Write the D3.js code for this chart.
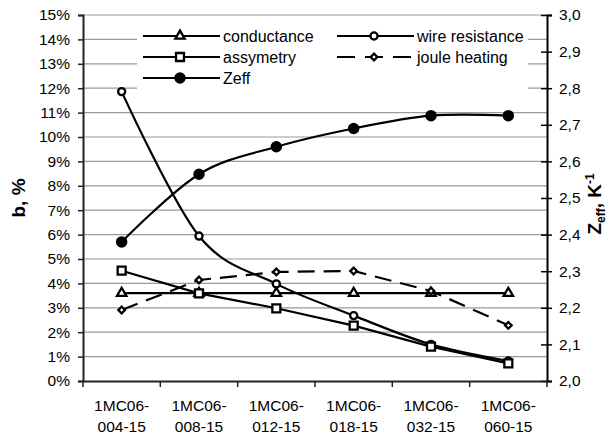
<!DOCTYPE html>
<html>
<head>
<meta charset="utf-8">
<script src="https://cdn.jsdelivr.net/npm/d3@7"></script>
<style>
    body { margin: 0; background: #fff; }
    text { font-family: "Liberation Sans", Arial, sans-serif; fill: #000; }
</style>
</head>
<body>
<div id="chart"></div>
<script>
// samples on the x axis
const categories = ["1MC06-004-15", "1MC06-008-15", "1MC06-012-15", "1MC06-018-15", "1MC06-032-15", "1MC06-060-15"];

// left axis series, in %
const conductance = [3.6, 3.6, 3.6, 3.6, 3.6, 3.6];
const wireResistance = [11.86, 5.94, 3.98, 2.68, 1.50, 0.82];
const assymetry = [4.52, 3.59, 2.98, 2.27, 1.41, 0.72];
const jouleHeating = [2.91, 4.14, 4.47, 4.51, 3.69, 2.28];

// right axis series, K^-1
const zeff = [2.38, 2.565, 2.64, 2.69, 2.725, 2.725];

const leftTicks = d3.range(0, 16, 1);
const rightTicks = [2.0, 2.1, 2.2, 2.3, 2.4, 2.5, 2.6, 2.7, 2.8, 2.9, 3.0];

const width = 608;
const height = 435;
const plot = { left: 83, right: 547, top: 15, bottom: 381 };

const svg = d3.select("#chart").append("svg")
    .attr("width", width)
    .attr("height", height);

const x = d3.scaleBand().domain(categories).range([plot.left, plot.right]);
const cx = d => x(d) + x.bandwidth() / 2;
const yL = d3.scaleLinear().domain([0, 15]).range([plot.bottom, plot.top]);
const yR = d3.scaleLinear().domain([2, 3]).range([plot.bottom, plot.top]);

// gridlines
svg.append("g").selectAll("line")
    .data(leftTicks.filter(t => t > 0))
    .enter().append("line")
    .attr("x1", plot.left).attr("x2", plot.right)
    .attr("y1", d => yL(d)).attr("y2", d => yL(d))
    .attr("stroke", "#9a9a9a")
    .attr("stroke-width", 1.2);

// left axis
const axL = svg.append("g")
    .attr("transform", `translate(${plot.left},0)`)
    .call(d3.axisLeft(yL).tickValues(leftTicks).tickSize(5).tickPadding(8).tickFormat(d => d + "%"));
axL.select(".domain").attr("stroke", "#222").attr("stroke-width", 2);
axL.selectAll(".tick line").attr("stroke", "#222").attr("stroke-width", 1.5);
axL.selectAll("text").style("font-size", "15.5px").attr("fill", "#000");

// right axis, ticks cross the line
const axR = svg.append("g")
    .attr("transform", `translate(${plot.right},0)`)
    .call(d3.axisRight(yR).tickValues(rightTicks).tickSize(5).tickPadding(7)
        .tickFormat(d => d3.format(".1f")(d).replace(".", ",")));
axR.select(".domain").attr("stroke", "#000").attr("stroke-width", 2);
axR.selectAll(".tick line").attr("x1", -6).attr("stroke", "#000").attr("stroke-width", 1.5);
axR.selectAll("text").style("font-size", "15.5px").attr("fill", "#000");

// bottom axis: ticks between categories, labels centred
const axB = svg.append("g")
    .attr("transform", `translate(0,${plot.bottom})`)
    .call(d3.axisBottom(x).tickSize(0).tickPadding(0).tickFormat(""));
axB.select(".domain").attr("stroke", "#222").attr("stroke-width", 2);
const bounds = categories.map(c => x(c)).concat([plot.right]);
axB.selectAll(".sep").data(bounds).enter().append("line")
    .attr("x1", d => d).attr("x2", d => d)
    .attr("y1", 0).attr("y2", 6)
    .attr("stroke", "#222").attr("stroke-width", 1.5);
const lbl = axB.selectAll(".lbl").data(categories).enter().append("text")
    .attr("text-anchor", "middle")
    .style("font-size", "15.5px");
lbl.append("tspan").attr("x", d => cx(d)).attr("y", 30).text(d => d.slice(0, d.indexOf("-") + 1));
lbl.append("tspan").attr("x", d => cx(d)).attr("y", 51).text(d => d.slice(d.indexOf("-") + 1));

// axis titles
svg.append("text")
    .attr("transform", `translate(25,${(plot.top + plot.bottom) / 2}) rotate(-90)`)
    .attr("text-anchor", "middle")
    .style("font-size", "19px").style("font-weight", "bold")
    .text("b, %");

const tR = svg.append("text")
    .attr("transform", `translate(601,204) rotate(-90)`)
    .attr("text-anchor", "middle")
    .style("font-size", "19px").style("font-weight", "bold");
tR.append("tspan").text("Z");
tR.append("tspan").attr("dy", 4).style("font-size", "12px").text("eff");
tR.append("tspan").attr("dy", -4).text(", K");
tR.append("tspan").attr("dy", -7).style("font-size", "12px").text("-1");

// series definitions
const series = [
    { name: "conductance", values: conductance, y: yL, symbol: d3.symbolTriangle, size: 38, fill: "#fff", curve: d3.curveLinear, dash: null, rot: 0 },
    { name: "wire resistance", values: wireResistance, y: yL, symbol: d3.symbolCircle, size: 40, fill: "#fff", curve: d3.curveCardinal.tension(0), dash: null, rot: 0 },
    { name: "assymetry", values: assymetry, y: yL, symbol: d3.symbolSquare, size: 64, fill: "#fff", curve: d3.curveLinear, dash: null, rot: 0 },
    { name: "joule heating", values: jouleHeating, y: yL, symbol: d3.symbolSquare, size: 22, fill: "#fff", curve: d3.curveLinear, dash: "17,9", rot: 45 },
    { name: "Zeff", values: zeff, y: yR, symbol: d3.symbolCircle, size: 66, fill: "#000", curve: d3.curveCardinal.tension(0), dash: null, rot: 0 }
];

// legend box
const legend = svg.append("g");
legend.append("rect")
    .attr("x", 137).attr("y", 24).attr("width", 391).attr("height", 72)
    .attr("fill", "#fff");
const legendPos = {
    "conductance": [143, 36], "assymetry": [143, 57], "Zeff": [143, 78],
    "wire resistance": [337, 36], "joule heating": [337, 57]
};

series.forEach(s => {
    const line = d3.line()
        .x((d, i) => cx(categories[i]))
        .y(d => s.y(d))
        .curve(s.curve);
    svg.append("path")
        .datum(s.values)
        .attr("d", line)
        .attr("fill", "none")
        .attr("stroke", "#000")
        .attr("stroke-width", 2.2)
        .attr("stroke-dasharray", s.dash);
    svg.append("g").selectAll("path")
        .data(s.values)
        .enter().append("path")
        .attr("d", d3.symbol().type(s.symbol).size(s.size))
        .attr("transform", (d, i) => `translate(${cx(categories[i])},${s.y(d)}) rotate(${s.rot})`)
        .attr("fill", s.fill)
        .attr("stroke", "#000")
        .attr("stroke-width", 2.3);

    const [lx, ly] = legendPos[s.name];
    legend.append("line")
        .attr("x1", lx).attr("x2", lx + 77)
        .attr("y1", ly).attr("y2", ly)
        .attr("stroke", "#000").attr("stroke-width", 2.2)
        .attr("stroke-dasharray", s.dash ? "18,10" : null);
    legend.append("path")
        .attr("d", d3.symbol().type(s.symbol).size(s.size))
        .attr("transform", `translate(${lx + 37},${ly}) rotate(${s.rot})`)
        .attr("fill", s.fill)
        .attr("stroke", "#000")
        .attr("stroke-width", 2.3);
    legend.append("text")
        .attr("x", lx + 80).attr("y", ly + 5.5)
        .style("font-size", "16px")
        .text(s.name);
});
</script>
</body>
</html>
